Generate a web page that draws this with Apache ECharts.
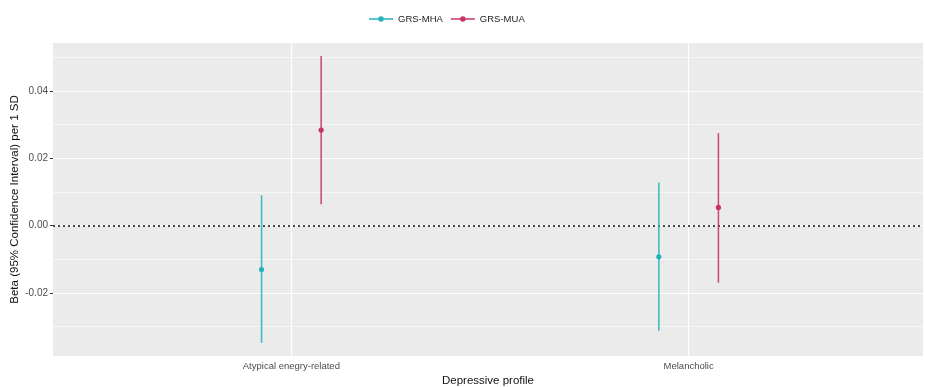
<!DOCTYPE html>
<html>
<head>
<meta charset="utf-8">
<script src="https://cdn.jsdelivr.net/npm/echarts@6/dist/echarts.min.js"></script>
<style>
  html, body { margin: 0; padding: 0; background: #fff; }
  #chart { width: 925px; height: 387px; }
</style>
</head>
<body>
<div id="chart"></div>
<script>
const categories = ['Atypical enegry-related', 'Melancholic'];
const groups = ['GRS-MHA', 'GRS-MUA'];
const colors = ['#25B3BB', '#C8326B'];

// estimates and 95% CI per category
const mhaEst = [-0.0131, -0.0093];
const mhaLow = [-0.0349, -0.0313];
const mhaHigh = [0.0090, 0.0128];
const muaEst = [0.0284, 0.0054];
const muaLow = [0.0063, -0.0170];
const muaHigh = [0.0504, 0.0275];

const yTicks = [-0.02, 0, 0.02, 0.04];
const yMinor = [-0.03, -0.01, 0.01, 0.03, 0.05];
const dodge = 0.075;

const chart = echarts.init(document.getElementById('chart'));

function makeData(est, low, high, offset) {
  return categories.map((c, i) => [i + 1 + offset, low[i], high[i], est[i]]);
}

function errorSeries(name, color, data) {
  return {
    name: name,
    type: 'custom',
    itemStyle: { color: color },
    encode: { x: 0, y: [1, 2, 3] },
    data: data,
    z: 5,
    renderItem: function (params, api) {
      const x = api.value(0);
      const lo = api.coord([x, api.value(1)]);
      const hi = api.coord([x, api.value(2)]);
      const mid = api.coord([x, api.value(3)]);
      return {
        type: 'group',
        children: [
          { type: 'line', shape: { x1: hi[0], y1: hi[1], x2: lo[0], y2: lo[1] },
            style: { stroke: color, lineWidth: 1.6, opacity: 0.85 } },
          { type: 'circle', shape: { cx: mid[0], cy: mid[1], r: 2.6 },
            style: { fill: color } }
        ]
      };
    }
  };
}

const gridLines = []
  .concat(yMinor.map(v => ({ yAxis: v, lineStyle: { color: '#fff', width: 0.6, type: 'solid' } })))
  .concat(yTicks.map(v => ({ yAxis: v, lineStyle: { color: '#fff', width: 1.2, type: 'solid' } })))
  .concat(categories.map((c, i) => ({ xAxis: i + 1, lineStyle: { color: '#fff', width: 1.2, type: 'solid' } })));

// line-with-dot key, like a pointrange legend
const legendIcon = 'path://M0,5.3H9.4V6.7H0Z M14.6,5.3H24V6.7H14.6Z M9.2,6A2.8,2.8 0 1 1 14.8,6A2.8,2.8 0 1 1 9.2,6Z';

const option = {
  animation: false,
  legend: {
    data: groups.map((g, i) => ({ name: g, icon: legendIcon, itemStyle: { color: colors[i] } })),
    left: 364,
    top: 9,
    itemWidth: 24,
    itemHeight: 12,
    itemGap: 8,
    textStyle: { fontFamily: 'Liberation Sans', fontSize: 9.5, color: '#222' }
  },
  grid: {
    left: 53, right: 2, top: 43, bottom: 31,
    outerBoundsMode: 'none',
    containLabel: false,
    show: true, backgroundColor: '#EBEBEB', borderWidth: 0
  },
  xAxis: {
    type: 'value',
    min: 0.4,
    max: 2.59,
    name: 'Depressive profile',
    nameLocation: 'middle',
    nameGap: 19,
    nameMoveOverlap: false,
    nameTextStyle: { fontFamily: 'Liberation Sans', fontSize: 11.5, color: '#111' },
    axisLine: { show: false },
    axisTick: { show: true, customValues: [1, 2], length: 3, lineStyle: { color: '#333', width: 1 } },
    axisLabel: {
      customValues: [1, 2],
      formatter: v => categories[Math.round(v) - 1],
      fontFamily: 'Liberation Sans', fontSize: 9.5, color: '#4D4D4D', margin: 5
    },
    splitLine: { show: false }
  },
  yAxis: {
    type: 'value',
    min: -0.0388,
    max: 0.0543,
    name: 'Beta (95% Confidence Interval) per 1 SD',
    nameLocation: 'middle',
    nameGap: 32,
    nameMoveOverlap: false,
    nameTextStyle: { fontFamily: 'Liberation Sans', fontSize: 11.5, color: '#111' },
    axisLine: { show: false },
    axisTick: { show: true, customValues: yTicks, length: 3, lineStyle: { color: '#333', width: 1 } },
    axisLabel: {
      customValues: yTicks,
      formatter: v => v.toFixed(2),
      fontFamily: 'Liberation Sans', fontSize: 10, color: '#4D4D4D', margin: 5
    },
    splitLine: { show: false }
  },
  series: [
    {
      name: 'grid',
      type: 'line',
      data: [],
      silent: true,
      z: 1,
      markLine: {
        silent: true,
        symbol: 'none',
        label: { show: false },
        data: gridLines
      }
    },
    {
      name: 'zero',
      type: 'line',
      data: [],
      silent: true,
      z: 3,
      markLine: {
        silent: true,
        symbol: 'none',
        label: { show: false },
        data: [{ yAxis: 0, lineStyle: { color: '#111', width: 1.5, type: [2, 3] } }]
      }
    },
    errorSeries(groups[0], colors[0], makeData(mhaEst, mhaLow, mhaHigh, -dodge)),
    errorSeries(groups[1], colors[1], makeData(muaEst, muaLow, muaHigh, dodge))
  ]
};

chart.setOption(option);
</script>
</body>
</html>
